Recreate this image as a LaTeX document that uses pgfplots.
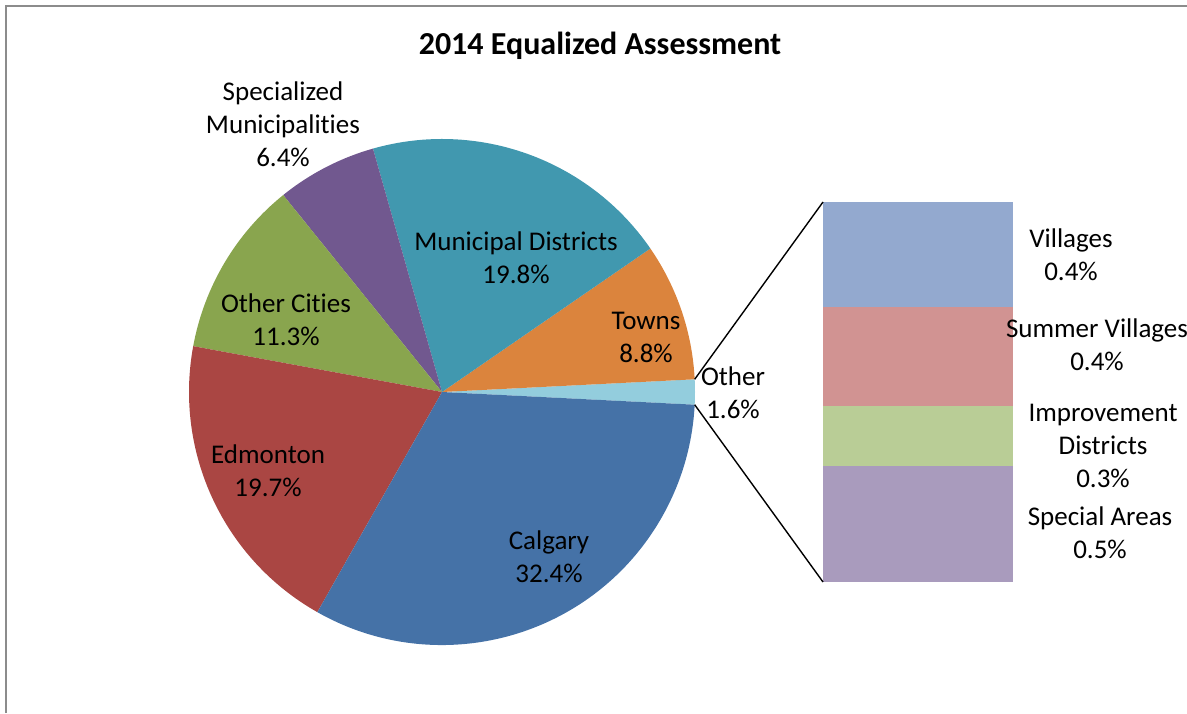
\documentclass[border=0pt]{standalone}
\usepackage{pgfplots}
\pgfplotsset{compat=1.18}
\usepackage{pgfplotstable}
\usepackage{fontspec}
\setmainfont{Carlito}[Ligatures={NoCommon,NoRare,NoContextual}]

\definecolor{cCal}{HTML}{4572A7}
\definecolor{cEdm}{HTML}{AA4643}
\definecolor{cOC}{HTML}{89A54E}
\definecolor{cSpec}{HTML}{71588F}
\definecolor{cMun}{HTML}{4198AF}
\definecolor{cTowns}{HTML}{DB843D}
\definecolor{cOther}{HTML}{93CDDD}
\definecolor{cVil}{HTML}{93A9CF}
\definecolor{cSum}{HTML}{D19392}
\definecolor{cID}{HTML}{B9CD96}
\definecolor{cSA}{HTML}{A99BBD}
\definecolor{frame}{HTML}{8C8C8C}

\pgfplotstableread{
name pct col
Other 1.6 cOther
Towns 8.8 cTowns
Municipal 19.8 cMun
Specialized 6.4 cSpec
OtherCities 11.3 cOC
Edmonton 19.7 cEdm
Calgary 32.4 cCal
}\piedata

\newcommand\lbl{\fontsize{13.5}{16.5}\selectfont}

\begin{document}
\begin{tikzpicture}
% stacked bar of "Other"
\begin{axis}[
  hide axis, scale only axis,
  width=95pt, height=190pt,
  at={(411.5pt,65.5pt)}, anchor=south west,
  xmin=0, xmax=1, ymin=0, ymax=1.6,
  ybar stacked, bar width=95pt,
]
\addplot[fill=cSA, draw=none] coordinates {(0.5,0.49)};
\addplot[fill=cID, draw=none] coordinates {(0.5,0.25)};
\addplot[fill=cSum, draw=none] coordinates {(0.5,0.42)};
\addplot[fill=cVil, draw=none] coordinates {(0.5,0.44)};
\end{axis}
\begin{axis}[
  hide axis, scale only axis, clip=false,
  width=593.5pt, height=356.5pt,
  xmin=0, xmax=1187, ymin=0, ymax=713,
  at={(0pt,0pt)}, anchor=south west,
]
% frame (left and top edges)
\draw[frame, line width=1pt] (axis cs:5.5,0) -- (axis cs:5.5,707) -- (axis cs:1187,707);
% pie slices
\pgfplotstablegetelem{0}{pct}\of\piedata
\pgfmathsetmacro\startang{-1.8*\pgfplotsretval}
\pgfplotsforeachungrouped \i in {0,...,6}{%
  \pgfplotstablegetelem{\i}{pct}\of\piedata
  \let\p\pgfplotsretval
  \pgfplotstablegetelem{\i}{col}\of\piedata
  \let\c\pgfplotsretval
  \pgfmathsetmacro\endang{\startang+3.6*\p}%
  \edef\temp{\noexpand\fill[\c] (axis cs:442,321) -- ++(\startang:126.5pt) arc[start angle=\startang, end angle=\endang, radius=126.5pt] -- cycle;}%
  \temp
  \global\let\startang\endang
}
% connector lines
\draw[black, line width=0.7pt] (axis cs:442,321) ++(2.88:126.5pt) -- (axis cs:823,511);
\draw[black, line width=0.7pt] (axis cs:442,321) ++(-2.88:126.5pt) -- (axis cs:823,131);
% title
\node[font=\fontsize{16}{19}\selectfont\bfseries] at (axis cs:600,667) {2014 Equalized Assessment};
% labels
\node[align=center, font=\lbl] at (axis cs:283,589) {Specialized\\Municipalities\\6.4\%};
\node[align=center, font=\lbl] at (axis cs:516,455) {Municipal Districts\\19.8\%};
\node[align=center, font=\lbl] at (axis cs:646,376) {Towns\\8.8\%};
\node[align=center, font=\lbl] at (axis cs:733,320) {Other\\1.6\%};
\node[align=center, font=\lbl] at (axis cs:286,393) {Other Cities\\11.3\%};
\node[align=center, font=\lbl] at (axis cs:268,242) {Edmonton\\19.7\%};
\node[align=center, font=\lbl] at (axis cs:549,156) {Calgary\\32.4\%};
\node[align=center, font=\lbl] at (axis cs:1071,458) {Villages\\0.4\%};
\node[align=center, font=\lbl] at (axis cs:1097,368) {Summer Villages\\0.4\%};
\node[align=center, font=\lbl] at (axis cs:1103,267) {Improvement\\Districts\\0.3\%};
\node[align=center, font=\lbl] at (axis cs:1100,180) {Special Areas\\0.5\%};
\end{axis}
\pgfresetboundingbox
\useasboundingbox (0pt,0pt) rectangle (593.5pt,356.5pt);
\end{tikzpicture}
\end{document}
